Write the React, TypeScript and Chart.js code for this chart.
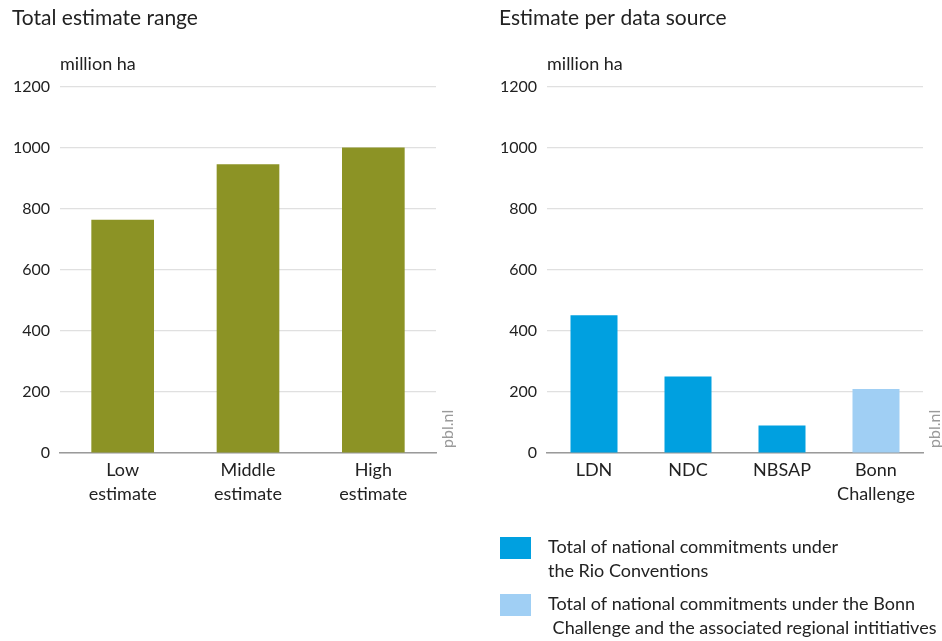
import React, { useEffect, useRef } from "react";
import { Chart, registerables } from "chart.js";

Chart.register(...registerables);

const leftTitle = "Total estimate range";
const rightTitle = "Estimate per data source";
const unitLabel = "million ha";
const watermark = "pbl.nl";

const leftCategories = [["Low", "estimate"], ["Middle", "estimate"], ["High", "estimate"]];
const leftValues = [765, 947, 1002];

const rightCategories = ["LDN", "NDC", "NBSAP", ["Bonn", "Challenge"]];
const rioValues = [452, 251, 90, null];
const bonnValues = [null, null, null, 210];
const rioLabel = ["Total of national commitments under", "the Rio Conventions"];
const bonnLabel = ["Total of national commitments under the Bonn", " Challenge and the associated regional intitiatives"];

const yMin = 0;
const yMax = 1200;
const yStep = 200;

const FONT = "Lato, 'Noto Sans', sans-serif";
const TEXT = "#222222";
const OLIVE = "#8c9325";
const BLUE = "#00a0e0";
const LIGHT = "#a0cff4";

const W_LEFT = 470;
const W_RIGHT = 472;
const H = 641;

function makeOptions(yAxisWidth: number, padRight: number, title: string, withLegend: boolean): any {
  return {
    responsive: false,
    animation: false,
    maintainAspectRatio: false,
    layout: { padding: { top: 87, right: padRight, left: 0, bottom: 0 } },
    plugins: {
      legend: { display: false },
      tooltip: { enabled: false },
      deco: { title, withLegend },
    },
    scales: {
      x: {
        stacked: true,
        grid: { display: false, drawTicks: false },
        border: { display: true, color: "#9a9a9a", width: 1.5 },
        ticks: { color: TEXT, font: { family: FONT, size: 18, lineHeight: 1.33 }, padding: 5, maxRotation: 0, autoSkip: false },
        afterFit: (s: any) => { s.height = H - 453; },
      },
      y: {
        min: yMin,
        max: yMax,
        grid: { color: "#e0e0e0", lineWidth: 1.2, drawTicks: false },
        border: { display: false },
        ticks: {
          stepSize: yStep,
          color: TEXT,
          font: { family: FONT, size: 16 },
          padding: 10,
          callback: (v: any) => String(v),
        },
        afterFit: (s: any) => { s.width = yAxisWidth; },
      },
    },
  };
}

const decoPlugin = {
  id: "deco",
  afterDraw(chart: any, _args: any, opts: any) {
    const ctx = chart.ctx;
    const area = chart.chartArea;
    ctx.save();
    ctx.fillStyle = TEXT;
    ctx.textBaseline = "middle";
    ctx.textAlign = "left";
    ctx.font = `21px ${FONT}`;
    ctx.fillText(opts.title, area.left - 48, 18);
    ctx.font = `18px ${FONT}`;
    ctx.fillText(unitLabel, area.left, 64);
    // watermark
    ctx.save();
    ctx.translate(area.right + 17, area.bottom - 5);
    ctx.rotate(-Math.PI / 2);
    ctx.fillStyle = "#9a9a9a";
    ctx.font = `16px ${FONT}`;
    ctx.textBaseline = "alphabetic";
    ctx.fillText(watermark, 0, 0);
    ctx.restore();
    if (opts.withLegend) {
      const items = chart.data.datasets;
      const tops = [537, 594];
      items.forEach((ds: any, i: number) => {
        const top = tops[i];
        ctx.fillStyle = ds.backgroundColor;
        ctx.fillRect(area.left - 47, top, 31, 22);
        ctx.fillStyle = TEXT;
        ctx.font = `18px ${FONT}`;
        ctx.textBaseline = "middle";
        const lines = Array.isArray(ds.label) ? ds.label : [ds.label];
        lines.forEach((ln: string, j: number) => {
          ctx.fillText(ln, area.left + 1, top + 10 + j * 24);
        });
      });
    }
    ctx.restore();
  },
};

export default function App() {
  const leftRef = useRef<HTMLCanvasElement>(null);
  const rightRef = useRef<HTMLCanvasElement>(null);

  useEffect(() => {
    const c1 = new Chart(leftRef.current as HTMLCanvasElement, {
      type: "bar",
      data: {
        labels: leftCategories as any,
        datasets: [
          {
            label: leftTitle,
            data: leftValues,
            backgroundColor: OLIVE,
            barPercentage: 0.5,
            categoryPercentage: 1,
          },
        ],
      },
      options: makeOptions(60, W_LEFT - 436, leftTitle, false),
      plugins: [decoPlugin],
    });
    const c2 = new Chart(rightRef.current as HTMLCanvasElement, {
      type: "bar",
      data: {
        labels: rightCategories as any,
        datasets: [
          {
            label: rioLabel as any,
            data: rioValues,
            backgroundColor: BLUE,
            barPercentage: 0.5,
            categoryPercentage: 1,
          },
          {
            label: bonnLabel as any,
            data: bonnValues,
            backgroundColor: LIGHT,
            barPercentage: 0.5,
            categoryPercentage: 1,
          },
        ],
      },
      options: makeOptions(547 - W_LEFT, 942 - 923, rightTitle, true),
      plugins: [decoPlugin],
    });
    return () => {
      c1.destroy();
      c2.destroy();
    };
  }, []);

  return (
    <div style={{ position: "fixed", left: 0, top: 0, width: 942, height: H, background: "#fff", overflow: "hidden" }}>
      <canvas ref={leftRef} width={W_LEFT} height={H} style={{ position: "absolute", left: 0, top: 0 }} />
      <canvas ref={rightRef} width={W_RIGHT} height={H} style={{ position: "absolute", left: W_LEFT, top: 0 }} />
    </div>
  );
}
